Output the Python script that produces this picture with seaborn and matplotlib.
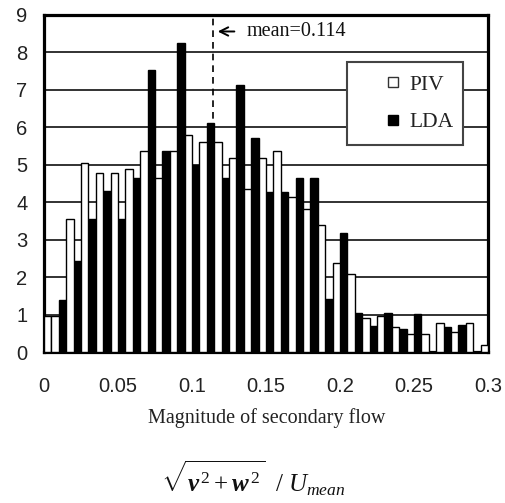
import matplotlib
matplotlib.use("Agg")
import matplotlib.pyplot as plt
from matplotlib.lines import Line2D
from matplotlib.patches import Rectangle
import pandas as pd
import seaborn as sns

# ---- data ----
bin_center = [0.005, 0.015, 0.025, 0.035, 0.045, 0.055, 0.065, 0.075, 0.085, 0.095,
              0.105, 0.115, 0.125, 0.135, 0.145, 0.155, 0.165, 0.175, 0.185, 0.195,
              0.205, 0.215, 0.225, 0.235, 0.245, 0.255, 0.265, 0.275, 0.285, 0.295]
piv = [0.96, 3.55, 5.06, 4.79, 4.79, 4.88, 5.36, 4.64, 5.36, 5.80,
       5.62, 5.62, 5.18, 4.35, 5.18, 5.36, 4.13, 3.81, 3.40, 2.39,
       2.09, 0.92, 0.95, 0.66, 0.47, 0.47, 0.78, 0.53, 0.78, 0.19]
lda = [0.96, 1.39, 2.43, 3.55, 4.29, 3.55, 4.64, 7.52, 5.37, 8.25,
       5.00, 6.11, 4.66, 7.14, 5.71, 4.27, 4.27, 4.64, 4.64, 1.41,
       3.17, 1.03, 0.70, 1.03, 0.62, 1.02, 0.00, 0.68, 0.72, 0.00]
series = ["LDA", "PIV"]
mean_value = 0.114
x_ticks = [0, 0.05, 0.1, 0.15, 0.2, 0.25, 0.3]
x_ticklabels = ["0", "0.05", "0.1", "0.15", "0.2", "0.25", "0.3"]
y_ticks = [0, 1, 2, 3, 4, 5, 6, 7, 8, 9]

df = pd.DataFrame({
    "x": bin_center * 2,
    "value": lda + piv,
    "series": ["LDA"] * len(lda) + ["PIV"] * len(piv),
})

sns.set_theme(style="white")
plt.rcParams["font.family"] = ["Liberation Sans", "DejaVu Sans"]
plt.rcParams["mathtext.fontset"] = "custom"
plt.rcParams["mathtext.rm"] = "Liberation Serif"
plt.rcParams["mathtext.it"] = "Liberation Serif:italic"
plt.rcParams["mathtext.bf"] = "Liberation Serif:bold"
plt.rcParams["mathtext.bfit"] = "Liberation Serif:italic:bold"

fig = plt.figure(figsize=(5.05, 5.03), dpi=100)
ax = fig.add_axes([44 / 505, 1 - 352 / 503, 444 / 505, 337 / 503])

sns.barplot(data=df, x="x", y="value", hue="series", hue_order=series,
            palette={"LDA": "black", "PIV": "white"}, native_scale=True,
            width=1.0, dodge=True, errorbar=None, edgecolor="black",
            linewidth=1.0, legend=False, ax=ax, zorder=3)
# first left-hand bar appears white in the reference
ax.containers[0].patches[0].set_facecolor("white")

ax.set_xlim(0, 0.3)
ax.set_ylim(0, 9)
ax.set_xticks(x_ticks)
ax.set_xticklabels(x_ticklabels)
ax.set_yticks(y_ticks)
ax.tick_params(axis="both", length=0, labelsize=14.5, colors="#222222")
ax.tick_params(axis="x", pad=18)
ax.tick_params(axis="y", pad=12)
ax.set_xlabel("")
ax.set_ylabel("")
ax.yaxis.grid(True, color="#222222", linewidth=1.3, zorder=0)
ax.set_axisbelow(True)
for s in ax.spines.values():
    s.set_visible(True)
    s.set_color("black")
    s.set_linewidth(2.3)

# mean line
ax.axvline(mean_value, color="black", linestyle=(0, (4, 3)), linewidth=1.2, zorder=2)
ax.annotate("", xy=(mean_value + 0.0015, 8.56), xytext=(0.1305, 8.56),
            arrowprops=dict(arrowstyle="->", color="black", lw=1.4,
                            mutation_scale=15), zorder=5)
ax.text(0.137, 8.56, "mean=0.114", fontsize=14.5, va="center", ha="left",
        family=["Liberation Serif", "DejaVu Serif"], color="#111111")

# legend box
ax.add_patch(Rectangle((0.6818, 0.6142), 0.9444 - 0.6818, 0.8614 - 0.6142,
                       transform=ax.transAxes, facecolor="white",
                       edgecolor="#444444", linewidth=1.5, zorder=6))
handles = [Line2D([], [], linestyle="none", marker="s", markersize=7.2,
                  markerfacecolor="white", markeredgecolor="#333333", markeredgewidth=1.0),
           Line2D([], [], linestyle="none", marker="s", markersize=7.7,
                  markerfacecolor="black", markeredgecolor="black")]
leg = ax.legend(handles, ["PIV", "LDA"], loc="center left",
                bbox_to_anchor=((371.6 - 44) / 444, (352 - 103.4) / 337),
                frameon=False, borderpad=0, handlelength=1.0, handletextpad=0.25,
                labelspacing=0.8, prop={"family": "Liberation Serif", "size": 15.5})
leg.set_zorder(7)
for t in leg.get_texts():
    t.set_color("#222222")

fig.text(267 / 505, 1 - 418 / 503, "Magnitude of secondary flow",
         family=["Liberation Serif", "DejaVu Serif"], fontsize=14.5,
         ha="center", va="center", color="#222222")
fig.text(253 / 505, 1 - 478 / 503,
         r"$\sqrt{\mathbfit{v}^{\,2}+\mathbfit{w}^{\,2}}\ \ /\ U_{mean}$",
         fontsize=18, ha="center", va="center", color="#111111")

fig.savefig("out.png", dpi=100)
